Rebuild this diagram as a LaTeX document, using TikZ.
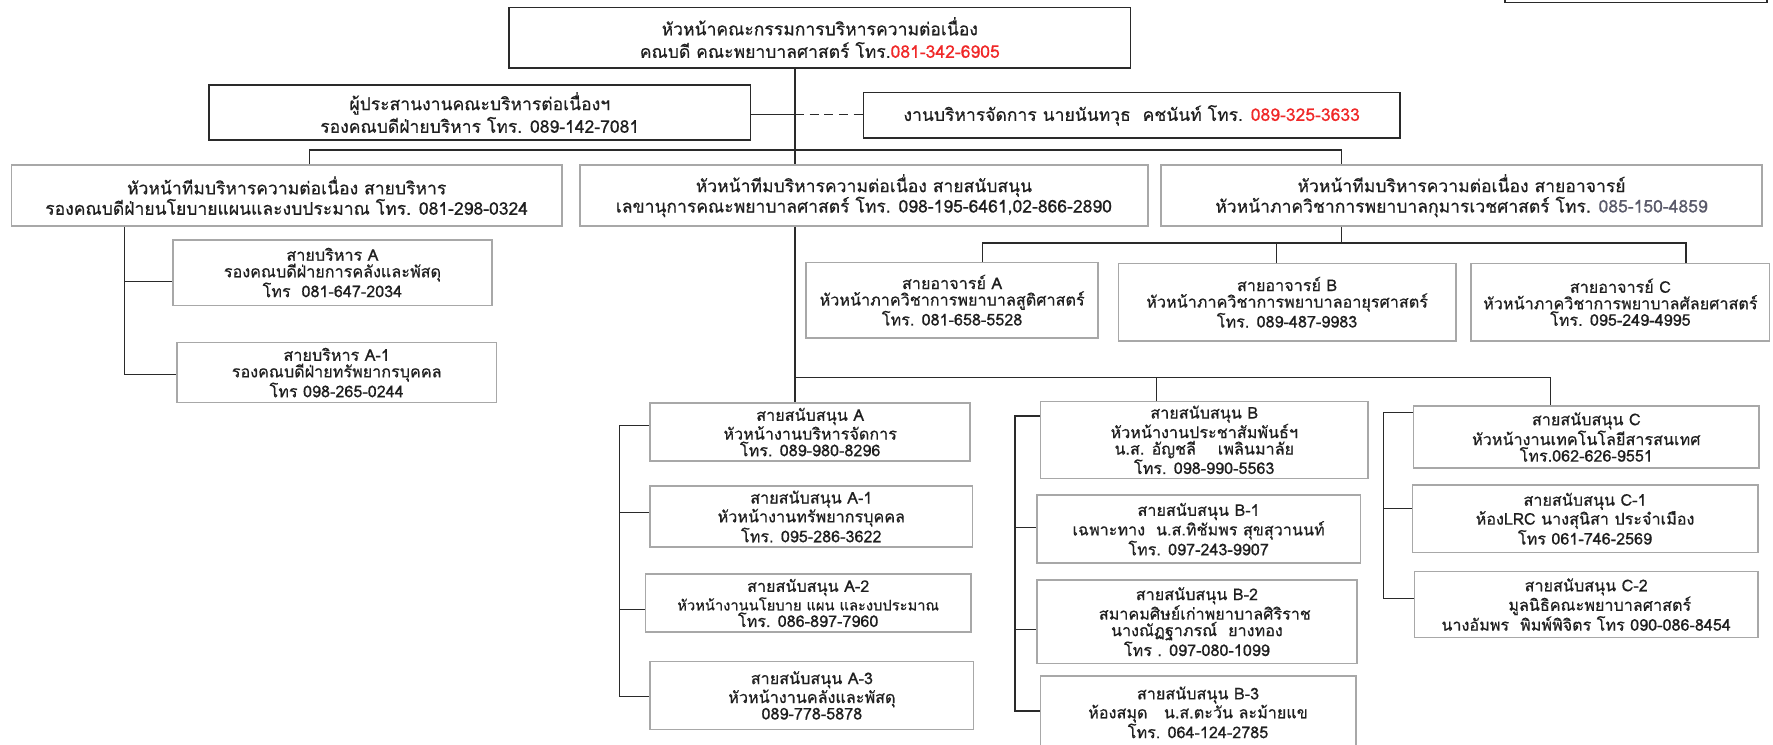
\documentclass[tikz,border=0pt]{standalone}
\usepackage{fontspec}
\newfontfamily\thaifont[Script=Thai,FakeBold=0.5]{Loma}
\definecolor{linec}{HTML}{2A2A2A}
\definecolor{boxg}{HTML}{A8A8A8}
\definecolor{telred}{HTML}{F02828}
\definecolor{telgray}{HTML}{5A5A6A}
\newcommand\mkbox[7]{\node[#6, minimum width={(#4-#2)*1pt}, minimum height={(#5-#3)*1pt}] (#1) at ({(#2+#4)/2},{(#3+#5)/2}) {#7};}
\begin{document}
\begin{tikzpicture}[x=1pt,y=-1pt,
  bx/.style={draw=boxg, line width=1.4pt, fill=white, inner sep=0pt, align=center, text=black!88, font=\thaifont\fontsize{14.3}{14.6}\selectfont},
  hb/.style={bx, font=\thaifont\fontsize{15.5}{18}\selectfont},
  db/.style={bx, draw=linec, line width=1.3pt, font=\thaifont\fontsize{15.5}{20}\selectfont},
  con/.style={draw=linec, line width=1.1pt},
]
\useasboundingbox (0,0) rectangle (1568,658);
% boxes
\mkbox{corner}{1331}{-10}{1562.7}{2.4}{db}{}
\mkbox{top}{450}{6.5}{1000}{60}{db}{หัวหน้าคณะกรรมการบริหารความต่อเนื่อง\\คณบดี คณะพยาบาลศาสตร์ โทร.\textcolor{telred}{081-342-6905}}
\mkbox{coord}{185}{75}{663.5}{124}{db}{ผู้ประสานงานคณะบริหารต่อเนื่องฯ\\รองคณบดีฝ่ายบริหาร โทร. 089-142-7081}
\mkbox{mgmt}{763.7}{82}{1238}{122}{db}{งานบริหารจัดการ นายนันทวุธ\ \ คชนันท์ โทร. \textcolor{telred}{089-325-3633}}
\mkbox{L2}{10}{146}{497}{200}{hb}{หัวหน้าทีมบริหารความต่อเนื่อง สายบริหาร\\รองคณบดีฝ่ายนโยบายแผนและงบประมาณ โทร. 081-298-0324}
\mkbox{M2}{513}{146}{1015}{200}{hb}{หัวหน้าทีมบริหารความต่อเนื่อง สายสนับสนุน\\เลขานุการคณะพยาบาลศาสตร์ โทร. 098-195-6461,02-866-2890}
\mkbox{R2}{1027}{146}{1558}{200}{hb}{หัวหน้าทีมบริหารความต่อเนื่อง สายอาจารย์\\หัวหน้าภาควิชาการพยาบาลกุมารเวชศาสตร์ โทร. \textcolor{telgray}{085-150-4859}}
\mkbox{LA}{153}{212}{435}{270}{bx}{สายบริหาร A\\รองคณบดีฝ่ายการคลังและพัสดุ\\โทร\ \ 081-647-2034}
\mkbox{LA1}{156.5}{303}{439}{356}{bx}{สายบริหาร A-1\\รองคณบดีฝ่ายทรัพยากรบุคคล\\โทร 098-265-0244}
\mkbox{PA}{713}{232}{971}{299}{bx}{สายอาจารย์ A\\หัวหน้าภาควิชาการพยาบาลสูติศาสตร์\\โทร. 081-658-5528}
\mkbox{PB}{989}{233}{1287.5}{301.6}{bx}{สายอาจารย์ B\\หัวหน้าภาควิชาการพยาบาลอายุรศาสตร์\\โทร. 089-487-9983}
\mkbox{PC}{1301}{233}{1565}{301.6}{bx}{สายอาจารย์ C\\หัวหน้าภาควิชาการพยาบาลศัลยศาสตร์\\โทร. 095-249-4995}
\mkbox{SA}{575}{356.6}{858}{407.7}{bx}{สายสนับสนุน A\\หัวหน้างานบริหารจัดการ\\โทร. 089-980-8296}
\mkbox{SA1}{575}{430}{860}{483.5}{bx}{สายสนับสนุน A-1\\หัวหน้างานทรัพยากรบุคคล\\โทร. 095-286-3622}
\mkbox{SA2}{571}{507.6}{858.5}{559}{bx}{สายสนับสนุน A-2\\{\fontsize{13}{14.6}\selectfont หัวหน้างานนโยบาย แผน และงบประมาณ}\\โทร. 086-897-7960}
\mkbox{SA3}{575}{585}{861}{645}{bx}{สายสนับสนุน A-3\\หัวหน้างานคลังและพัสดุ\\089-778-5878}
\mkbox{SB}{920}{355}{1210}{423}{bx}{สายสนับสนุน B\\หัวหน้างานประชาสัมพันธ์ฯ\\น.ส. อัญชลี\ \ \ \ เพลินมาลัย\\โทร. 098-990-5563}
\mkbox{SB1}{917}{438}{1203}{498}{bx}{สายสนับสนุน B-1\\เฉพาะทาง\ \ น.ส.ทิชัมพร สุขสุวานนท์\\โทร. 097-243-9907}
\mkbox{SB2}{917}{513}{1200}{586.6}{bx}{สายสนับสนุน B-2\\\hspace*{14pt}สมาคมศิษย์เก่าพยาบาลศิริราช\\นางณัฏฐาภรณ์\ \ ยางทอง\\โทร . 097-080-1099}
\mkbox{SB3}{920}{598}{1199}{662}{bx}{สายสนับสนุน B-3\\ห้องสมุด\ \ \ น.ส.ตะวัน ละม้ายแข\\โทร. 064-124-2785}
\mkbox{SC}{1250}{359}{1555.7}{414}{bx}{สายสนับสนุน C\\หัวหน้างานเทคโนโลยีสารสนเทศ\\โทร.062-626-9551}
\mkbox{SC1}{1249}{429}{1554.5}{488.5}{bx}{สายสนับสนุน C-1\\ห้องLRC นางสุนิสา ประจำเมือง\\โทร 061-746-2569}
\mkbox{SC2}{1251}{505.6}{1554.5}{563.7}{bx}{สายสนับสนุน C-2\\\hspace*{24pt}มูลนิธิคณะพยาบาลศาสตร์\\นางอัมพร\ \ พิมพ์พิจิตร โทร 090-086-8454}
% trunk
\coordinate (tx) at (703,0);
\draw[con] (top.south -| tx) -- (M2.north -| tx);
\draw[con] (M2.south -| tx) -- (SA.north -| tx);
% coordinator / management
\coordinate (j1) at (703,101.5);
\draw[con] (coord.east |- j1) -- (j1);
\draw[con, dash pattern=on 8pt off 5pt] (j1) -- (mgmt.west |- j1);
% first bus
\coordinate (b1l) at (273.6,132.7);
\coordinate (b1r) at (1186.5,132.7);
\draw[con] (L2.north -| b1l) -- (b1l) -- (b1r) -- (R2.north -| b1r);
% left column
\coordinate (lcA) at (110,249);
\coordinate (lcA1) at (110,331);
\draw[con] (L2.south -| lcA) -- (lcA1) -- (LA1.west |- lcA1);
\draw[con] (lcA) -- (LA.west |- lcA);
% professor bus
\coordinate (pbl) at (869,215);
\coordinate (pbm) at (1128.6,215);
\coordinate (pbr) at (1491,215);
\coordinate (pbc) at (1186.5,215);
\draw[con] (R2.south -| pbc) -- (pbc);
\draw[con] (PA.north -| pbl) -- (pbl) -- (pbr) -- (PC.north -| pbr);
\draw[con] (pbm) -- (PB.north -| pbm);
% support bus
\coordinate (sbl) at (703,334);
\coordinate (sbm) at (1023,334);
\coordinate (sbr) at (1371,334);
\draw[con] (sbl) -- (sbr) -- (SC.north -| sbr);
\draw[con] (sbm) -- (SB.north -| sbm);
% support A column
\coordinate (ac1) at (548,376);
\coordinate (ac2) at (548,453);
\coordinate (ac3) at (548,539);
\coordinate (ac4) at (548,616);
\draw[con] (SA.west |- ac1) -- (ac1) -- (ac4) -- (SA3.west |- ac4);
\draw[con] (ac2) -- (SA1.west |- ac2);
\draw[con] (ac3) -- (SA2.west |- ac3);
% support B column
\coordinate (bc1) at (897.7,368);
\coordinate (bc2) at (897.7,466.7);
\coordinate (bc3) at (897.7,556.6);
\coordinate (bc4) at (897.7,628.8);
\draw[con] (SB.west |- bc1) -- (bc1) -- (bc4) -- (SB3.west |- bc4);
\draw[con] (bc2) -- (SB1.west |- bc2);
\draw[con] (bc3) -- (SB2.west |- bc3);
% support C column
\coordinate (cc1) at (1223.4,365);
\coordinate (cc2) at (1223.4,450);
\coordinate (cc3) at (1223.4,529);
\draw[con] (SC.west |- cc1) -- (cc1) -- (cc3) -- (SC2.west |- cc3);
\draw[con] (cc2) -- (SC1.west |- cc2);
\end{tikzpicture}
\end{document}
